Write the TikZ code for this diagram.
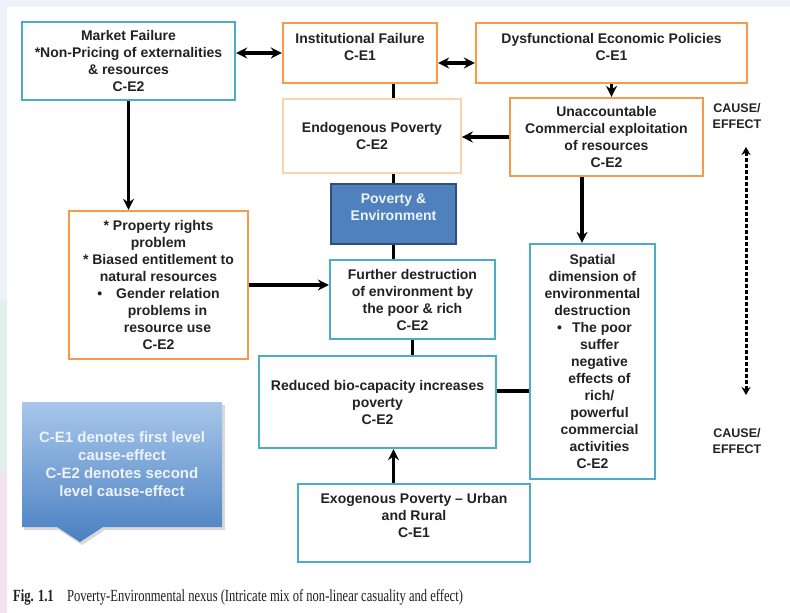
\documentclass[tikz,border=0pt]{standalone}
\usepackage{fontspec}
\setmainfont{Liberation Serif}
\setsansfont{Liberation Sans}
\usepackage{graphicx}
\usetikzlibrary{arrows.meta}
\definecolor{cyanb}{HTML}{4BACC6}
\definecolor{orangeb}{HTML}{F79A4E}
\definecolor{lorange}{HTML}{FAD2AC}
\definecolor{txt}{HTML}{222222}
\definecolor{pefill}{HTML}{4F81BD}
\definecolor{peline}{HTML}{2F4F7A}
\definecolor{bgstrip}{HTML}{EEF1F7}
\definecolor{legtop}{HTML}{A8C7EA}
\definecolor{legbot}{HTML}{4A80C2}
\definecolor{stripgreen}{HTML}{E2F0ED}
\definecolor{strippink}{HTML}{F2E4EE}
\definecolor{lighttxt}{HTML}{EEF3FA}
\definecolor{captxt}{HTML}{1E1E1E}
\tikzset{
  box/.style={draw, line width=2.2pt, fill=white, text=txt, align=center, inner sep=0pt,
    font=\sffamily\bfseries\fontsize{14}{17}\selectfont},
  cbox/.style={box, draw=cyanb},
  obox/.style={box, draw=orangeb},
  lbl/.style={text=txt, align=center, inner sep=0pt, font=\sffamily\bfseries\fontsize{14}{17}\selectfont},
  conn/.style={line width=3.4pt, black},
  arr/.style={conn, -{Stealth[length=11pt,width=11pt]}},
  darr/.style={conn, {Stealth[length=11pt,width=11pt]}-{Stealth[length=11pt,width=11pt]}},
  celbl/.style={text=txt, align=center, inner sep=0pt, font=\sffamily\bfseries\fontsize{12.5}{16}\selectfont}
}
\begin{document}
\begin{tikzpicture}[x=1pt,y=-1pt]
\useasboundingbox (0,0) rectangle (790,613);
\fill[bgstrip] (0,0) rectangle (790,613);
\fill[white] (7,7) rectangle (790,613);
\fill[stripgreen] (0,300) rectangle (7,470);
\fill[strippink] (0,470) rectangle (7,613);

% boxes
\node (mf) [cbox, minimum width=213pt, minimum height=78pt] at (128.5,61)
  {Market Failure\\*Non-Pricing of externalities\\\& resources\\C-E2};
\node (inst) [obox, minimum width=154pt, minimum height=60pt] at (360,53) {};
\node (instT) [lbl] at (360,46.5) {Institutional Failure\\C-E1};
\node (dys) [obox, minimum width=271pt, minimum height=60pt] at (611.5,53) {};
\node (dysT) [lbl] at (611.5,46.5) {Dysfunctional Economic Policies\\C-E1};
\node (endo) [box, draw=lorange, line width=1.6pt, minimum width=178pt, minimum height=74pt] at (372,136)
  {Endogenous Poverty\\C-E2};
\node (unacc) [obox, minimum width=193pt, minimum height=78pt] at (606.5,137)
  {Unaccountable\\Commercial exploitation\\of resources\\C-E2};
\node (pe) [box, draw=peline, fill=pefill, line width=1.6pt, minimum width=125pt, minimum height=60pt] at (393.5,214) {};
\node (peT) [lbl, text=lighttxt] at (393.5,207.5) {Poverty \&\\Environment};
\node (prop) [obox, minimum width=179pt, minimum height=148pt] at (158.5,285)
  {* Property rights\\problem\\* Biased entitlement to\\natural resources\\
   •\hspace{14pt}Gender relation\\\hspace*{18pt}problems in\\\hspace*{18pt}resource use\\C-E2};
\node (fur) [cbox, minimum width=165pt, minimum height=79pt] at (412.5,299.5)
  {Further destruction\\of environment by\\the poor \& rich\\C-E2};
\node (spat) [cbox, minimum width=125pt, minimum height=235pt] at (592.5,361.5)
  {Spatial\\dimension of\\environmental\\destruction\\
   \hspace*{4pt}•\hspace{10pt}The poor\\\hspace*{14pt}suffer\\\hspace*{14pt}negative\\\hspace*{14pt}effects of\\
   \hspace*{14pt}rich/\\\hspace*{14pt}powerful\\\hspace*{14pt}commercial\\\hspace*{14pt}activities\\C-E2};
\node (red) [cbox, minimum width=237pt, minimum height=92pt] at (377.5,402)
  {Reduced bio-capacity increases\\poverty\\C-E2};
\node (exo) [cbox, minimum width=232pt, minimum height=78pt] at (414,523) {};
\node (exoT) [lbl] at (414,515.5) {Exogenous Poverty -- Urban\\and Rural\\C-E1};

% legend callout
\fill[black!15] (24,405) -- (225,405) -- (225,530) -- (105,530) -- (82,545) -- (59,530) -- (24,530) -- cycle;
\shade[top color=legtop, bottom color=legbot]
  (22,402) -- (222,402) -- (222,527) -- (103,527) -- (80,542) -- (57,527) -- (22,527) -- cycle;
\node (legend) [align=center, inner sep=0pt, text=lighttxt,
  font=\sffamily\bfseries\fontsize{15}{18}\selectfont] at (122,464)
  {C-E1 denotes first level\\cause-effect\\C-E2 denotes second\\level cause-effect};

% connectors
\draw[darr] (inst.west -| mf.east) -- (inst.west);
\draw[darr] ([yshift=-10pt]inst.east) -- ([yshift=-10pt]dys.west);
\draw[arr] (dys.south) -- (dys.south |- unacc.north);
\draw[conn] (inst.south -| pe.center) -- (endo.north -| pe.center);
\draw[arr] (unacc.west) -- (unacc.west -| endo.east);
\draw[conn] (endo.south -| pe.center) -- (pe.north);
\draw[conn] (pe.south) -- (pe.south |- fur.north);
\draw[arr] ([xshift=-24.5pt]unacc.south) -- ([xshift=-24.5pt]unacc.south |- spat.north);
\draw[arr] (mf.south) -- (mf.south |- prop.north);
\draw[arr] (prop.east) -- (prop.east -| fur.west);
\draw[conn] (fur.south) -- (fur.south |- red.north);
\draw[conn] ([yshift=11pt]red.east) -- ([yshift=11pt]red.east -| spat.west);
\draw[arr] (exo.north -| pe.center) -- (red.south -| pe.center);

% cause/effect
\node (ce1) [celbl] at (737,116) {CAUSE/\\EFFECT};
\node (ce2) [celbl] at (737,441) {CAUSE/\\EFFECT};
\coordinate (ceTop) at (746,147);
\coordinate (ceBot) at (746,395);
\draw[line width=3pt, dash pattern=on 4pt off 2pt,
  {Stealth[length=8pt,width=9pt]}-{Stealth[length=8pt,width=9pt]}] (ceTop) -- (ceBot);

% caption
\node (cap) [anchor=west, inner sep=0pt, text=captxt] at (13,597)
  {\scalebox{0.74}[1]{\fontsize{17}{19}\selectfont\textbf{Fig. 1.1}\hspace{18pt}Poverty-Environmental nexus (Intricate mix of non-linear casuality and effect)}};
\end{tikzpicture}
\end{document}
